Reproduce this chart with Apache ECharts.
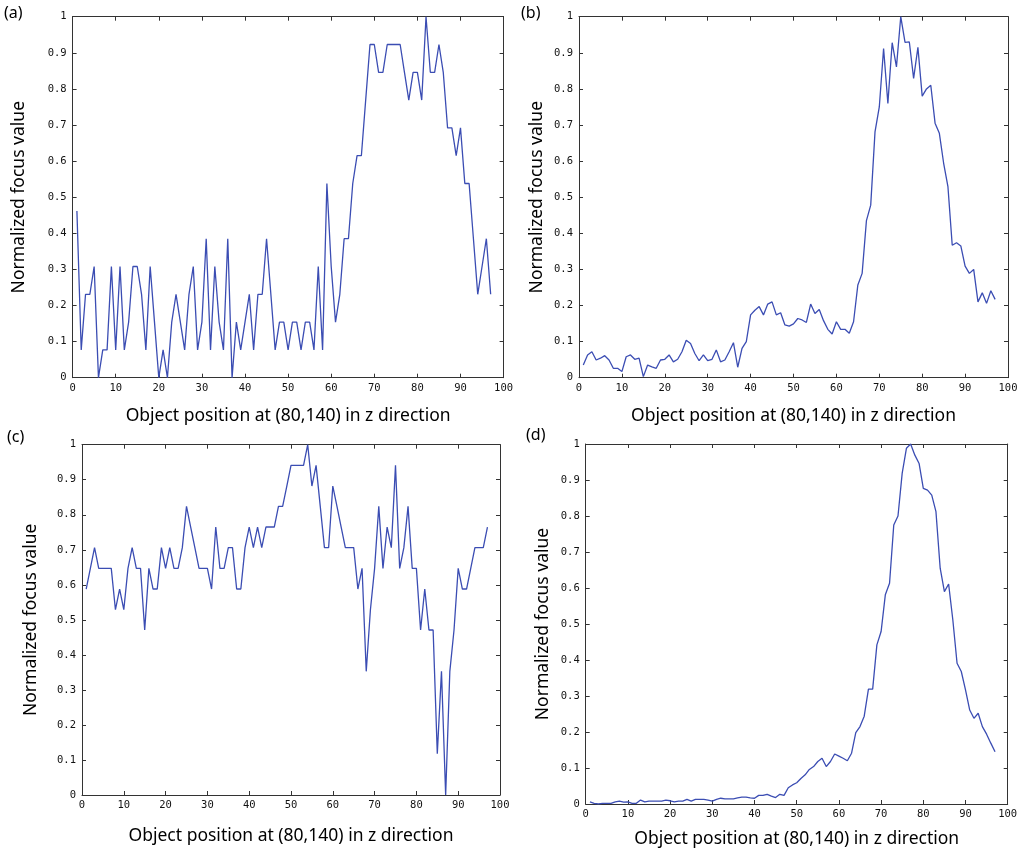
<!DOCTYPE html>
<html>
<head>
<meta charset="utf-8">
<script src="https://cdn.jsdelivr.net/npm/echarts@6/dist/echarts.min.js"></script>
<style>
html,body{margin:0;padding:0;background:#fff;}
#chart{width:1024px;height:856px;}
</style>
</head>
<body>
<div id="chart"></div>
<script>
// Object positions (z)
var positions = [1,2,3,4,5,6,7,8,9,10,11,12,13,14,15,16,17,18,19,20,21,22,23,24,25,26,27,28,29,30,31,32,33,34,35,36,37,38,39,40,41,42,43,44,45,46,47,48,49,50,51,52,53,54,55,56,57,58,59,60,61,62,63,64,65,66,67,68,69,70,71,72,73,74,75,76,77,78,79,80,81,82,83,84,85,86,87,88,89,90,91,92,93,94,95,96,97];

// (a)
var valuesA = [0.462,0.077,0.231,0.231,0.308,0,0.077,0.077,0.308,0.077,
  0.308,0.077,0.154,0.308,0.308,0.231,0.077,0.308,0.154,0,
  0.077,0,0.154,0.231,0.154,0.077,0.231,0.308,0.077,0.154,
  0.385,0.077,0.308,0.154,0.077,0.385,0,0.154,0.077,0.154,
  0.231,0.077,0.231,0.231,0.385,0.231,0.077,0.154,0.154,0.077,
  0.154,0.154,0.077,0.154,0.154,0.077,0.308,0.077,0.538,0.308,
  0.154,0.231,0.385,0.385,0.538,0.615,0.615,0.769,0.923,0.923,
  0.846,0.846,0.923,0.923,0.923,0.923,0.846,0.769,0.846,0.846,
  0.769,1,0.846,0.846,0.923,0.846,0.692,0.692,0.615,0.692,
  0.538,0.538,0.385,0.231,0.308,0.385,0.231];

// (b)
var valuesB = [0.035,0.063,0.072,0.049,0.054,0.061,0.049,0.026,0.026,0.017,
  0.058,0.063,0.051,0.054,0.003,0.035,0.030,0.026,0.049,0.051,
  0.063,0.044,0.051,0.072,0.104,0.095,0.067,0.047,0.063,0.047,
  0.051,0.077,0.044,0.049,0.072,0.097,0.029,0.081,0.100,0.174,
  0.187,0.197,0.174,0.204,0.210,0.174,0.180,0.146,0.143,0.149,
  0.164,0.160,0.153,0.204,0.178,0.189,0.158,0.134,0.121,0.155,
  0.134,0.134,0.123,0.155,0.257,0.289,0.435,0.478,0.681,0.750,
  0.912,0.760,0.928,0.861,1.000,0.929,0.930,0.829,0.915,0.780,
  0.800,0.810,0.705,0.677,0.594,0.529,0.367,0.374,0.365,0.309,
  0.289,0.300,0.210,0.235,0.206,0.241,0.217];

// (c)
var valuesC = [0.588,0.647,0.706,0.647,0.647,0.647,0.647,0.529,0.588,0.529,
  0.647,0.706,0.647,0.647,0.471,0.647,0.588,0.588,0.706,0.647,
  0.706,0.647,0.647,0.706,0.824,0.765,0.706,0.647,0.647,0.647,
  0.588,0.765,0.647,0.647,0.706,0.706,0.588,0.588,0.706,0.765,
  0.706,0.765,0.706,0.765,0.765,0.765,0.824,0.824,0.882,0.941,
  0.941,0.941,0.941,1,0.882,0.941,0.824,0.706,0.706,0.882,
  0.824,0.765,0.706,0.706,0.706,0.588,0.647,0.353,0.529,0.647,
  0.824,0.647,0.765,0.706,0.941,0.647,0.706,0.824,0.647,0.647,
  0.471,0.588,0.471,0.471,0.118,0.353,0,0.353,0.471,0.647,
  0.588,0.588,0.647,0.706,0.706,0.706,0.765];

// (d)
var valuesD = [0.006,0.002,0,0.002,0.002,0.002,0.006,0.008,0.005,0.006,
  0.002,0.002,0.011,0.006,0.008,0.008,0.008,0.008,0.011,0.009,
  0.006,0.008,0.008,0.013,0.008,0.013,0.013,0.013,0.011,0.008,
  0.013,0.016,0.014,0.014,0.014,0.017,0.019,0.019,0.017,0.016,
  0.024,0.024,0.027,0.022,0.018,0.027,0.024,0.045,0.053,0.059,
  0.071,0.081,0.096,0.104,0.118,0.127,0.104,0.118,0.139,0.133,
  0.127,0.120,0.141,0.198,0.215,0.244,0.319,0.319,0.442,0.479,
  0.581,0.613,0.775,0.800,0.919,0.988,1.000,0.969,0.946,0.877,
  0.872,0.858,0.812,0.655,0.590,0.611,0.511,0.391,0.368,0.317,
  0.261,0.238,0.252,0.215,0.194,0.169,0.145];

var xTitle = 'Object position at (80,140) in z direction';
var yTitle = 'Normalized focus value';
var panelLabels = ['(a)','(b)','(c)','(d)'];

var panels = [
  {vals: valuesA, left: 72.6, top: 16.7, width: 431, height: 361, yGap: 45, xGap: 29},
  {vals: valuesB, left: 579, top: 16.7, width: 429, height: 361, yGap: 33, xGap: 29},
  {vals: valuesC, left: 82, top: 444.7, width: 418, height: 350.3, yGap: 42, xGap: 32},
  {vals: valuesD, left: 585.7, top: 444, width: 422, height: 360, yGap: 34, xGap: 26}
];
var labelPos = [[4,5],[521,5],[7,429],[526,427]];

var axisLineStyle = {color: '#333', width: 1};
var tickFont = {fontFamily: 'DejaVu Sans Mono', fontSize: 10.5, color: '#111'};
var nameFont = {fontFamily: 'Noto Sans', fontSize: 17.5, color: '#000'};

var grids = [], xAxes = [], yAxes = [], series = [], graphics = [];
panels.forEach(function(p, i){
  grids.push({left: p.left, top: p.top, width: p.width, height: p.height, containLabel: false});
  xAxes.push({type: 'value', gridIndex: i, min: 0, max: 100, interval: 10, position: 'bottom',
    axisLine: {show: true, onZero: false, lineStyle: axisLineStyle},
    axisTick: {show: true, inside: true, length: 4, lineStyle: axisLineStyle},
    axisLabel: Object.assign({margin: 5}, tickFont),
    splitLine: {show: false},
    name: xTitle, nameLocation: 'middle', nameGap: p.xGap, nameTextStyle: nameFont});
  xAxes.push({type: 'value', gridIndex: i, min: 0, max: 100, interval: 10, position: 'top',
    axisLine: {show: true, onZero: false, lineStyle: axisLineStyle},
    axisTick: {show: true, inside: true, length: 4, lineStyle: axisLineStyle},
    axisLabel: {show: false}, splitLine: {show: false}});
  yAxes.push({type: 'value', gridIndex: i, min: 0, max: 1, interval: 0.1, position: 'left',
    axisLine: {show: true, onZero: false, lineStyle: axisLineStyle},
    axisTick: {show: true, inside: true, length: 4, lineStyle: axisLineStyle},
    axisLabel: Object.assign({margin: 6}, tickFont),
    splitLine: {show: false},
    name: yTitle, nameLocation: 'middle', nameGap: p.yGap, nameRotate: 90, nameTextStyle: nameFont});
  yAxes.push({type: 'value', gridIndex: i, min: 0, max: 1, interval: 0.1, position: 'right',
    axisLine: {show: true, onZero: false, lineStyle: axisLineStyle},
    axisTick: {show: true, inside: true, length: 4, lineStyle: axisLineStyle},
    axisLabel: {show: false}, splitLine: {show: false}});
  var data = positions.map(function(x, k){ return [x, p.vals[k]]; });
  series.push({type: 'line', xAxisIndex: 2*i, yAxisIndex: 2*i, data: data,
    showSymbol: false, symbol: 'none', animation: false,
    lineStyle: {color: '#3b4db3', width: 1.3}});
  graphics.push({type: 'text', left: labelPos[i][0], top: labelPos[i][1],
    style: {text: panelLabels[i], fontFamily: 'Noto Sans', fontSize: 16, fill: '#000'}});
});

var chart = echarts.init(document.getElementById('chart'), null, {renderer: 'canvas'});
chart.setOption({
  animation: false,
  backgroundColor: '#fff',
  grid: grids,
  xAxis: xAxes,
  yAxis: yAxes,
  series: series,
  graphic: graphics
});
</script>
</body>
</html>
